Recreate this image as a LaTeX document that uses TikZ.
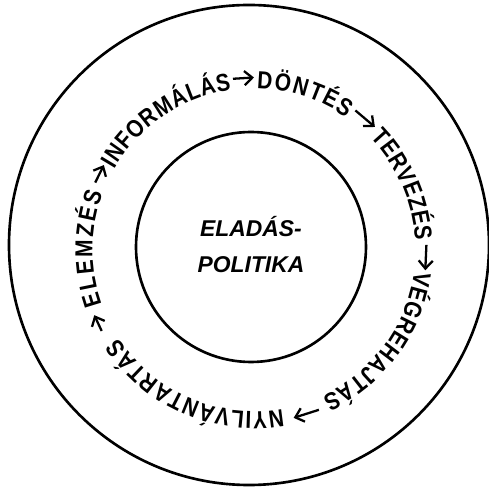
\documentclass[tikz,border=0pt]{standalone}
\usepackage{fontspec}
\setmainfont{Liberation Sans}
\newfontfamily\ringfont{Liberation Sans}[FakeStretch=0.85]
\usetikzlibrary{decorations.text,arrows.meta}
\newcommand{\wordfont}{\ringfont\bfseries\fontsize{14}{16}\selectfont}

\begin{document}
\begin{tikzpicture}[
  ring/.style={line width=1.5pt},
  flow/.style={line width=1.3pt,-{Straight Barb[length=4.5pt,width=8pt]}},
  wordarc/.style={decorate,decoration={text along path,text align={fit to path},text={|\wordfont|#1}}}]
\pgfmathsetmacro{\rO}{4.8}\pgfmathsetmacro{\rI}{2.3}
\pgfmathsetmacro{\rT}{3.23}\pgfmathsetmacro{\rA}{3.45}
\useasboundingbox (-4.98,-4.86) rectangle (4.80,4.90);
\draw[ring] (0,0) circle (\rO);
\draw[ring] (0.04,-0.04) circle (\rI);
\node[font=\bfseries\itshape\fontsize{13}{20.5}\selectfont,align=center] (policy) at (0.04,0) {ELADÁS-\\POLITIKA};
% words round the ring, read clockwise
\coordinate (c) at (0.1,-0.1);
\path[wordarc={ELEMZÉS}] ([shift={(199.6:\rT)}]c) arc[start angle=199.6,end angle=159.5,radius=\rT];
\path[wordarc={INFORMÁLÁS}] ([shift={(150:\rT)}]c) arc[start angle=150,end angle=98,radius=\rT];
\path[wordarc={DÖNTÉS}] ([shift={(89:\rT)}]c) arc[start angle=89,end angle=55,radius=\rT];
\path[wordarc={TERVEZÉS}] ([shift={(44:\rT)}]c) arc[start angle=44,end angle=3.5,radius=\rT];
\path[wordarc={VÉGREHAJTÁS}] ([shift={(-7.5:\rT)}]c) arc[start angle=-7.5,end angle=-65,radius=\rT];
\path[wordarc={NYILVÁNTARTÁS}] ([shift={(-79.8:\rT)}]c) arc[start angle=-79.8,end angle=-147,radius=\rT];
% arrows between the steps
\foreach \n/\s/\e in {1/157/150.5,2/97/90,3/54/45.5,4/1.7/-6.75,5/-67.9/-76.7,6/208/202.2}{%
  \coordinate (f\n a) at ([shift={(\s:\rA)}]c);
  \coordinate (f\n b) at ([shift={(\e:\rA)}]c);
  \draw[flow] (f\n a) -- (f\n b);}
\end{tikzpicture}
\end{document}
